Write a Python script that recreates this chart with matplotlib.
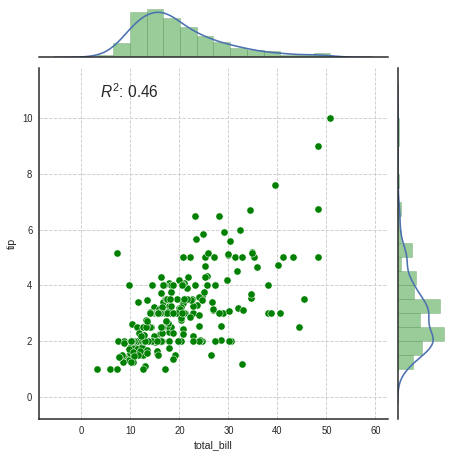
import numpy as np
import matplotlib
matplotlib.use("Agg")
from matplotlib import pyplot as plt

# tips data: total_bill / tip
total_bill = [
    16.99, 10.34, 21.01, 23.68, 24.59, 25.29, 8.77, 26.88, 15.04, 14.78,
    10.27, 35.26, 15.42, 18.43, 14.83, 21.58, 10.33, 16.29, 16.97, 20.65,
    17.92, 20.29, 15.77, 39.42, 19.82, 17.81, 13.37, 12.69, 21.70, 19.65,
    9.55, 18.35, 15.06, 20.69, 17.78, 24.06, 16.31, 16.93, 18.69, 31.27,
    16.04, 17.46, 13.94, 9.68, 30.40, 18.29, 22.23, 32.40, 28.55, 18.04,
    12.54, 10.29, 34.81, 9.94, 25.56, 19.49, 38.01, 26.41, 11.24, 48.27,
    20.29, 13.81, 11.02, 18.29, 17.59, 20.08, 16.45, 3.07, 20.23, 15.01,
    12.02, 17.07, 26.86, 25.28, 14.73, 10.51, 17.92, 27.20, 22.76, 17.29,
    19.44, 16.66, 10.07, 32.68, 15.98, 34.83, 13.03, 18.28, 24.71, 21.16,
    28.97, 22.49, 5.75, 16.32, 22.75, 40.17, 27.28, 12.03, 21.01, 12.46,
    11.35, 15.38, 44.30, 22.42, 20.92, 15.36, 20.49, 25.21, 18.24, 14.31,
    14.00, 7.25, 38.07, 23.95, 25.71, 17.31, 29.93, 10.65, 12.43, 24.08,
    11.69, 13.42, 14.26, 15.95, 12.48, 29.80, 8.52, 14.52, 11.38, 22.82,
    19.08, 20.27, 11.17, 12.26, 18.26, 8.51, 10.33, 14.15, 16.00, 13.16,
    17.47, 34.30, 41.19, 27.05, 16.43, 8.35, 18.64, 11.87, 9.78, 7.51,
    14.07, 13.13, 17.26, 24.55, 19.77, 29.85, 48.17, 25.00, 13.39, 16.49,
    21.50, 12.66, 16.21, 13.81, 17.51, 24.52, 20.76, 31.71, 10.59, 10.63,
    50.81, 15.81, 7.25, 31.85, 16.82, 32.90, 17.89, 14.48, 9.60, 34.63,
    34.65, 23.33, 45.35, 23.17, 40.55, 20.69, 20.90, 30.46, 18.15, 23.10,
    15.69, 19.81, 28.44, 15.48, 16.58, 7.56, 10.34, 43.11, 13.00, 13.51,
    18.71, 12.74, 13.00, 16.40, 20.53, 16.47, 26.59, 38.73, 24.27, 12.76,
    30.06, 25.89, 48.33, 13.27, 28.17, 12.90, 28.15, 11.59, 7.74, 30.14,
    12.16, 13.42, 8.58, 15.98, 13.42, 16.27, 10.09, 20.45, 13.28, 22.12,
    24.01, 15.69, 11.61, 10.77, 15.53, 10.07, 12.60, 32.83, 35.83, 29.03,
    27.18, 22.67, 17.82, 18.78,
]
tip = [
    1.01, 1.66, 3.50, 3.31, 3.61, 4.71, 2.00, 3.12, 1.96, 3.23,
    1.71, 5.00, 1.57, 3.00, 3.02, 3.92, 1.67, 3.71, 3.50, 3.35,
    4.08, 2.75, 2.23, 7.58, 3.18, 2.34, 2.00, 2.00, 4.30, 3.00,
    1.45, 2.50, 3.00, 2.45, 3.27, 3.60, 2.00, 3.07, 2.31, 5.00,
    2.24, 2.54, 3.06, 1.32, 5.60, 3.00, 5.00, 6.00, 2.05, 3.00,
    2.50, 2.60, 5.20, 1.56, 4.34, 3.51, 3.00, 1.50, 1.76, 6.73,
    3.21, 2.00, 1.98, 3.76, 2.64, 3.15, 2.47, 1.00, 2.01, 2.09,
    1.97, 3.00, 3.14, 5.00, 2.20, 1.25, 3.08, 4.00, 3.00, 2.71,
    3.00, 3.40, 1.83, 5.00, 2.03, 5.17, 2.00, 4.00, 5.85, 3.00,
    3.00, 3.50, 1.00, 4.30, 3.25, 4.73, 4.00, 1.50, 3.00, 1.50,
    2.50, 3.00, 2.50, 3.48, 4.08, 1.64, 4.06, 4.29, 3.76, 4.00,
    3.00, 1.00, 4.00, 2.55, 4.00, 3.50, 5.07, 1.50, 1.80, 2.92,
    2.31, 1.68, 2.50, 2.00, 2.52, 4.20, 1.48, 2.00, 2.00, 2.18,
    1.50, 2.83, 1.50, 2.00, 3.25, 1.25, 2.00, 2.00, 2.00, 2.75,
    3.50, 6.70, 5.00, 5.00, 2.30, 1.50, 1.36, 1.63, 1.73, 2.00,
    2.50, 2.00, 2.74, 2.00, 2.00, 5.14, 5.00, 3.75, 2.61, 2.00,
    3.50, 2.50, 2.00, 2.00, 3.00, 3.48, 2.24, 4.50, 1.61, 2.00,
    10.00, 3.16, 5.15, 3.18, 4.00, 3.11, 2.00, 2.00, 4.00, 3.55,
    3.68, 5.65, 3.50, 6.50, 3.00, 5.00, 3.50, 2.00, 3.50, 4.00,
    1.50, 4.19, 2.56, 2.02, 4.00, 1.44, 2.00, 5.00, 2.00, 2.00,
    4.00, 2.01, 2.00, 2.50, 4.00, 3.23, 3.41, 3.00, 2.03, 2.23,
    2.00, 5.16, 9.00, 2.50, 6.50, 1.10, 3.00, 1.50, 1.44, 3.09,
    2.20, 3.48, 1.92, 3.00, 1.58, 2.50, 2.00, 3.00, 2.72, 2.88,
    2.00, 3.00, 3.39, 1.47, 3.00, 1.25, 1.00, 1.17, 4.67, 5.92,
    2.00, 2.00, 1.75, 3.00,
]
x_ticks = [0, 10, 20, 30, 40, 50, 60]
y_ticks = [0, 2, 4, 6, 8, 10]

plt.rcParams['font.family'] = ['Liberation Sans', 'DejaVu Sans']
plt.rcParams['mathtext.fontset'] = 'custom'
plt.rcParams['mathtext.rm'] = 'Liberation Sans'
plt.rcParams['mathtext.it'] = 'Liberation Sans:italic'

TEXT = '#262626'
KDE_COLOR = '#4c72b0'


def kde_curve(values, gridsize=100, cut=3):
    """Gaussian KDE with scott bandwidth, like old distplot."""
    v = np.asarray(values, dtype=float)
    iqr = (np.percentile(v, 75) - np.percentile(v, 25)) / 1.349
    a = min(np.std(v, ddof=1), iqr)
    bw = 1.059 * a * len(v) ** (-0.2)
    grid = np.linspace(v.min() - cut * bw, v.max() + cut * bw, gridsize)
    dens = np.exp(-0.5 * ((grid[:, None] - v[None, :]) / bw) ** 2).sum(axis=1)
    dens /= len(v) * bw * np.sqrt(2 * np.pi)
    return grid, dens


x = np.array(total_bill)
y = np.array(tip)
r2 = np.corrcoef(x, y)[0, 1] ** 2

fig = plt.figure(figsize=(453 / 72, 456 / 72), dpi=72)
ax = fig.add_axes([0.0868, 0.0805, 0.7691, 0.7711])
ax_top = fig.add_axes([0.0868, 0.8743, 0.7691, 0.1112])
ax_right = fig.add_axes([0.8779, 0.0805, 0.1073, 0.7711])

# joint scatter
ax.scatter(x, y, s=52, color='g', edgecolor='white', linewidth=0.5, zorder=3)
ax.set_xlim(-8.6, 62.5)
ax.set_ylim(-0.8, 11.8)
ax.set_xticks(x_ticks)
ax.set_yticks(y_ticks)
ax.grid(True, linestyle='--', color='#cccccc', linewidth=0.9)
ax.set_axisbelow(True)
ax.tick_params(length=0, pad=7, labelsize=9.5, labelcolor=TEXT)
ax.set_xlabel('total_bill', fontsize=10.5, color=TEXT, labelpad=4)
ax.set_ylabel('tip', fontsize=10.5, color=TEXT, labelpad=5)
for side in ['top', 'right']:
    ax.spines[side].set_visible(False)
for side in ['left', 'bottom']:
    ax.spines[side].set_color(TEXT)
    ax.spines[side].set_linewidth(1.5)
ax.text(0.174, 0.932, f'$R^2$: {r2:.2f}', transform=ax.transAxes,
        fontsize=15.5, color=TEXT, va='center', ha='left')

# marginal histograms + kde
ax_top.hist(x, bins=14, density=True, color='g', alpha=0.4, edgecolor='#5a9a5a', linewidth=0.8)
gx, dx = kde_curve(x)
ax_top.plot(gx, dx, color=KDE_COLOR, linewidth=1.6)
ax_top.set_xlim(ax.get_xlim())
ax_top.set_ylim(bottom=0)

ax_right.hist(y, bins=18, density=True, orientation='horizontal', color='g', alpha=0.4,
              edgecolor='#5a9a5a', linewidth=0.8)
gy, dy = kde_curve(y)
ax_right.plot(dy, gy, color=KDE_COLOR, linewidth=1.6)
ax_right.set_ylim(ax.get_ylim())
ax_right.set_xlim(left=0)

for a in (ax_top, ax_right):
    a.set_xticks([])
    a.set_yticks([])
    for side in a.spines:
        a.spines[side].set_visible(False)
ax_top.spines['bottom'].set_visible(True)
ax_top.spines['bottom'].set_color(TEXT)
ax_top.spines['bottom'].set_linewidth(1.5)
ax_right.spines['left'].set_visible(True)
ax_right.spines['left'].set_color(TEXT)
ax_right.spines['left'].set_linewidth(1.5)

fig.savefig('out.png', dpi=72, facecolor='white')
